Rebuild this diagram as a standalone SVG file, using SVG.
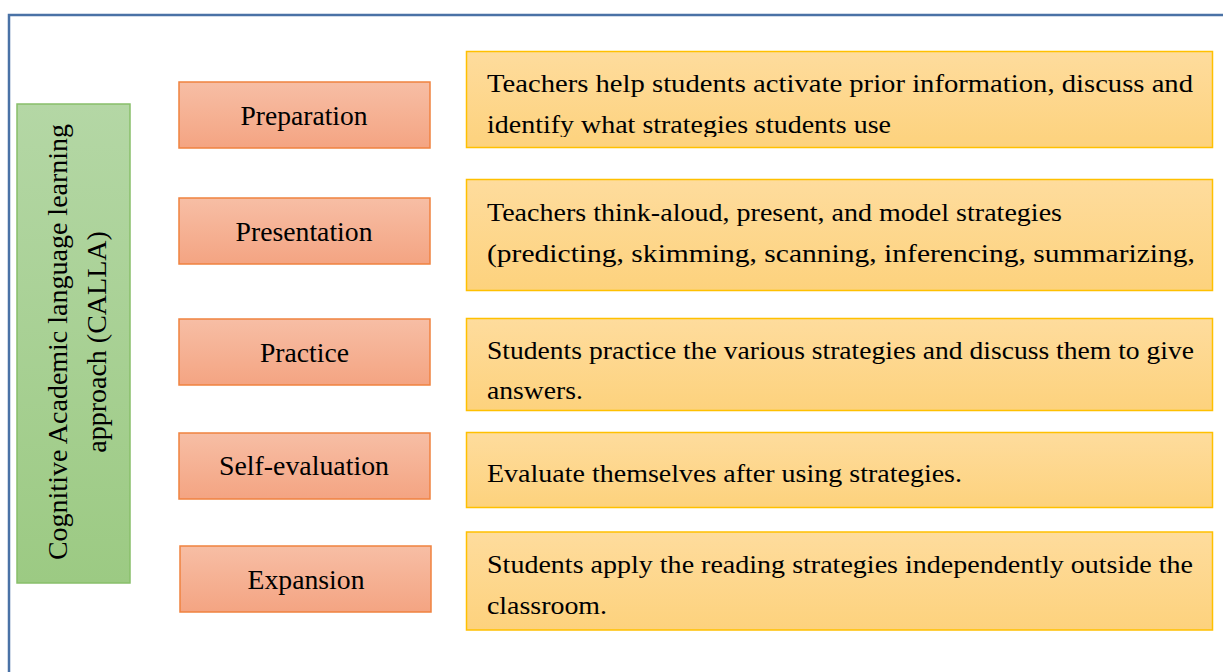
<svg xmlns="http://www.w3.org/2000/svg" width="1223" height="672" viewBox="0 0 1223 672">
  <defs>
    <linearGradient id="gOrange" x1="0" y1="0" x2="0" y2="1">
      <stop offset="0" stop-color="#f7bea5"/>
      <stop offset="1" stop-color="#f4a482"/>
    </linearGradient>
    <linearGradient id="gYellow" x1="0" y1="0" x2="0" y2="1">
      <stop offset="0" stop-color="#fedc9d"/>
      <stop offset="1" stop-color="#fdd27d"/>
    </linearGradient>
    <linearGradient id="gGreen" x1="0" y1="0" x2="0" y2="1">
      <stop offset="0" stop-color="#b4d7a5"/>
      <stop offset="1" stop-color="#9cca83"/>
    </linearGradient>
    <clipPath id="clip1">
      <rect x="466" y="51" width="747" height="86"/>
    </clipPath>
  </defs>
  <style>
    .t { font-family: "Liberation Serif", "Times New Roman", serif; fill: #000; }
    .box { font-size: 26px; }
    .lbl { font-size: 28px; text-anchor: middle; }
    .orange { fill: url(#gOrange); stroke: #f0823f; stroke-width: 1.5; }
    .yellow { fill: url(#gYellow); stroke: #ffc000; stroke-width: 1.5; }
    .green { fill: url(#gGreen); stroke: #88bf6a; stroke-width: 1.5; }
  </style>
  <rect width="1223" height="672" fill="#ffffff"/>
  <path d="M9,672 V15 H1223" fill="none" stroke="#4a72a6" stroke-width="2.5"/>

  <g id="connectors"></g>

  <g id="calla">
    <rect class="green" x="17" y="104" width="113" height="479"/>
    <g transform="translate(0,342) rotate(-90)">
      <text class="t" font-size="28" text-anchor="middle" x="0" y="67">Cognitive Academic language learning</text>
      <text class="t" font-size="28" text-anchor="middle" x="0" y="106">approach (CALLA)</text>
    </g>
  </g>

  <g id="preparation">
    <rect class="orange" x="179" y="82" width="251" height="66"/>
    <text class="t lbl" x="304" y="125" textLength="127" lengthAdjust="spacingAndGlyphs">Preparation</text>
  </g>
  <g id="presentation">
    <rect class="orange" x="179" y="198" width="251" height="66"/>
    <text class="t lbl" x="304" y="241" textLength="137" lengthAdjust="spacingAndGlyphs">Presentation</text>
  </g>
  <g id="practice">
    <rect class="orange" x="179" y="319" width="251" height="66"/>
    <text class="t lbl" x="304.5" y="362" textLength="89" lengthAdjust="spacingAndGlyphs">Practice</text>
  </g>
  <g id="self-evaluation">
    <rect class="orange" x="179" y="433" width="251" height="66"/>
    <text class="t lbl" x="304" y="475" textLength="170" lengthAdjust="spacingAndGlyphs">Self-evaluation</text>
  </g>
  <g id="expansion">
    <rect class="orange" x="180" y="546" width="251" height="66"/>
    <text class="t lbl" x="306" y="589" textLength="117" lengthAdjust="spacingAndGlyphs">Expansion</text>
  </g>

  <g id="desc-preparation">
    <rect class="yellow" x="466.5" y="51.5" width="746" height="96"/>
    <g clip-path="url(#clip1)">
      <text class="t box" x="487" y="92" textLength="706" lengthAdjust="spacingAndGlyphs">Teachers help students activate prior information, discuss and</text>
      <text class="t box" x="487" y="133" textLength="404" lengthAdjust="spacingAndGlyphs">identify what strategies students use</text>
    </g>
  </g>
  <g id="desc-presentation">
    <rect class="yellow" x="466.5" y="179.5" width="746" height="111"/>
    <text class="t box" x="487" y="221" textLength="575" lengthAdjust="spacingAndGlyphs">Teachers think-aloud, present, and model strategies</text>
    <text class="t box" x="487" y="262" textLength="708" lengthAdjust="spacingAndGlyphs">(predicting,  skimming,  scanning,  inferencing,  summarizing,</text>
  </g>
  <g id="desc-practice">
    <rect class="yellow" x="466.5" y="318.5" width="746" height="92"/>
    <text class="t box" x="487" y="359" textLength="707" lengthAdjust="spacingAndGlyphs">Students practice the various strategies and discuss them to give</text>
    <text class="t box" x="487" y="399" textLength="96" lengthAdjust="spacingAndGlyphs">answers.</text>
  </g>
  <g id="desc-self-evaluation">
    <rect class="yellow" x="466.5" y="432.5" width="746" height="75"/>
    <text class="t box" x="487" y="482" textLength="475" lengthAdjust="spacingAndGlyphs">Evaluate themselves after using strategies.</text>
  </g>
  <g id="desc-expansion">
    <rect class="yellow" x="466.5" y="532" width="746" height="98"/>
    <text class="t box" x="487" y="573" textLength="706" lengthAdjust="spacingAndGlyphs">Students apply the reading strategies independently outside the</text>
    <text class="t box" x="487" y="614" textLength="120" lengthAdjust="spacingAndGlyphs">classroom.</text>
  </g>
</svg>
